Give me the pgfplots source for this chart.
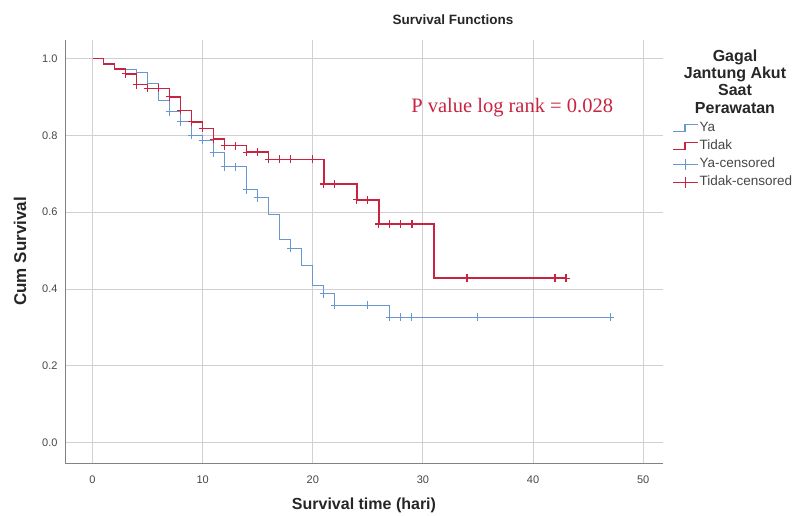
\documentclass[border=0pt]{standalone}
\usepackage{fontspec}
\setmainfont{Liberation Sans}
\newfontfamily\serifp{Liberation Serif}
\usepackage{pgfplots}
\pgfplotsset{compat=1.18}
\definecolor{ya}{RGB}{104,150,208}
\definecolor{tidak}{RGB}{200,36,66}
\definecolor{gridc}{RGB}{208,208,208}
\definecolor{axc}{RGB}{130,130,130}
\definecolor{txt}{RGB}{70,70,70}
\pgfplotsset{
  stepleg/.style={legend image code/.code={\draw[##1] (0pt,-3.5pt) -- (12pt,-3.5pt) -- (12pt,3.5pt) -- (25pt,3.5pt);}},
  censleg/.style={legend image code/.code={\draw[##1] (0pt,0pt) -- (25pt,0pt); \draw[##1] (12.5pt,-5.5pt) -- (12.5pt,5.5pt);}},
}
\begin{document}
\begin{tikzpicture}
\begin{axis}[
  name=ax,
  scale only axis,
  width=598pt, height=423pt,
  xmin=-2.5, xmax=51.8, ymin=-0.053, ymax=1.048,
  axis x line*=bottom, axis y line*=left,
  axis line style={axc, line width=0.9pt, -},
  xtick={0,10,20,30,40,50},
  ytick={0,0.2,0.4,0.6,0.8,1.0},
  major tick length=0pt,
  grid=major,
  grid style={gridc, line width=0.9pt},
  yticklabel style={/pgf/number format/fixed, /pgf/number format/fixed zerofill, /pgf/number format/precision=1, xshift=-4pt},
  /pgf/number format/assume math mode=true,
  tick label style={font=\fontsize{11}{12}\selectfont, text=txt},
  xticklabel style={yshift=-9pt},
  xlabel={\textbf{Survival time (hari)}},
  ylabel={\textbf{Cum Survival}},
  every axis x label/.style={at={(rel axis cs:0.5,0)}, anchor=center, yshift=-42pt, font=\fontsize{16}{18}\selectfont, text=black!85},
  every axis y label/.style={at={(rel axis cs:0,0.5)}, rotate=90, anchor=center, yshift=45pt, font=\fontsize{17}{19}\selectfont, text=black!85},
  clip=false,
  legend style={at={(rel axis cs:1,1)}, anchor=north west, xshift=9pt, yshift=-81pt, draw=none, fill=none,
    font=\fontsize{13.5}{14}\selectfont, text=txt, row sep=4pt, inner sep=0pt,
    nodes={inner sep=1pt, text height=9.5pt, text depth=2.5pt}},
  legend cell align=left,
]
\addplot[const plot, ya, line width=1.1pt, forget plot] coordinates {
(0,1.0) (1,0.986) (2,0.972) (4,0.963) (5,0.935) (6,0.891) (7,0.861) (8,0.835)
(9,0.800) (10,0.787) (11,0.754) (12,0.718) (14,0.658) (15,0.637) (16,0.594)
(17,0.529) (18,0.506) (19,0.460) (20,0.410) (21,0.388) (22,0.357) (27,0.326) (47,0.326)};
\addplot[const plot, tidak, line width=1.5pt, forget plot] coordinates {
(0,1.0) (1,0.986) (2,0.973) (3,0.960) (4,0.932) (5,0.922) (7,0.900) (8,0.865)
(9,0.835) (10,0.818) (11,0.790) (12,0.773) (14,0.756) (16,0.737) (21,0.673)
(24,0.632) (26,0.569) (31,0.428) (43,0.428)};
\addplot[only marks, mark=+, mark size=4pt, ya, line width=1pt, forget plot] coordinates {
(7,0.861) (8,0.835) (9,0.800) (10,0.787) (11,0.754) (12,0.718) (13,0.718) (14,0.658)
(15,0.637) (18,0.506) (21,0.388) (22,0.357) (25,0.357) (27,0.326) (28,0.326)
(29,0.326) (35,0.326) (47,0.326)};
\addplot[only marks, mark=+, mark size=4pt, tidak, line width=1.2pt, forget plot] coordinates {
(3,0.960) (4,0.932) (5,0.922) (6,0.922) (7,0.900) (8,0.865) (9,0.835) (10,0.818)
(11,0.790) (12,0.773) (13,0.773) (14,0.756) (15,0.756) (16,0.737) (17,0.737)
(18,0.737) (20,0.737) (21,0.673) (22,0.673) (24,0.632) (25,0.632) (26,0.569)
(27,0.569) (28,0.569) (29,0.569) (34,0.428) (42,0.428) (43,0.428)};
% legend entries
\addlegendimage{ya, line width=1.1pt, stepleg}
\addlegendentry{Ya}
\addlegendimage{tidak, line width=1.5pt, stepleg}
\addlegendentry{Tidak}
\addlegendimage{ya, line width=1pt, censleg}
\addlegendentry{Ya-censored}
\addlegendimage{tidak, line width=1.2pt, censleg}
\addlegendentry{Tidak-censored}
\node[text=tidak, font=\serifp\fontsize{20.5}{22}\selectfont, anchor=center] at (axis cs:38.1,0.873) {P value log rank = 0.028};
\node[font=\bfseries\fontsize{16}{17.4}\selectfont, align=center, anchor=north, text=black!85] at ([xshift=72pt,yshift=-6pt]rel axis cs:1,1) {Gagal\\Jantung Akut\\Saat\\Perawatan};
\node[font=\bfseries\fontsize{13.5}{15}\selectfont, anchor=center, text=black!85] at ([yshift=20pt]rel axis cs:0.649,1) {Survival Functions};
\end{axis}
\path (ax.south west) ++(-65pt,-52pt) coordinate (bl);
\path (ax.north east) ++(135pt,40pt) coordinate (tr);
\path[use as bounding box] (bl) rectangle (tr);
\end{tikzpicture}
\end{document}
